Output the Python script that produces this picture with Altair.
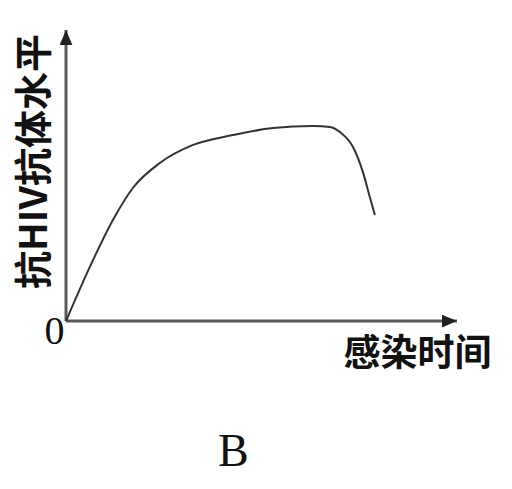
import altair as alt
import pandas as pd

# curve: infection time vs anti-HIV antibody level (relative units 0-100)
time = [0, 6.1, 12.0, 17.1, 24.0, 32.5, 42.7, 52.9, 63.2, 67.5, 70.1, 73.4, 76.0, 77.7, 79.0]
level = [0, 18.6, 34.7, 45.7, 54.3, 60.5, 63.9, 66.3, 67.0, 66.7, 64.9, 59.8, 50.9, 42.6, 36.4]

curve = pd.DataFrame({"t": time, "v": level})

xs = alt.Scale(domain=[0, 100], nice=False, zero=False)
ys = alt.Scale(domain=[0, 100], nice=False, zero=False)

axis_color = "#5a5a5a"
cjk = "Noto Sans CJK SC"

base = alt.Chart(curve)

line = base.mark_line(color="#333333", strokeWidth=2, interpolate="monotone", clip=False).encode(
    x=alt.X("t:Q", scale=xs, axis=alt.Axis(
        domain=False, ticks=False, grid=False, values=[0], labelExpr="'0'",
        labelFont="Liberation Serif", labelFontSize=40, labelColor="#111",
        labelFlush=False, labelAlign="center",
        labelOffset=-12, labelPadding=-10, labelBaseline="top",
        title="感染时间", titleFont=cjk, titleFontSize=37, titleFontWeight="bold",
        titleColor="#111", titleX=351, titleY=33, titleAlign="center", titleBaseline="middle")),
    y=alt.Y("v:Q", scale=ys, axis=alt.Axis(
        domain=False, ticks=False, grid=False, labels=False,
        title="抗HIV抗体水平", titleFont=cjk, titleFontSize=38, titleFontWeight="bold",
        titleColor="#111", titleX=-31, titleY=131, titleAlign="center", titleBaseline="middle",
        titleAngle=270)),
)

axes_df = pd.DataFrame({"x0": [0, 0], "x1": [100, 0], "y0": [0, 0], "y1": [0, 100]})
axes = alt.Chart(axes_df).mark_rule(color=axis_color, strokeWidth=3).encode(
    x=alt.X("x0:Q", scale=xs), x2="x1:Q",
    y=alt.Y("y0:Q", scale=ys), y2="y1:Q",
)

up = alt.Chart(pd.DataFrame({"x": [0], "y": [100]})).mark_point(
    shape="M0,-1L-0.85,1L0.85,1Z", size=225, filled=True, opacity=1,
    color="#222", yOffset=7.5).encode(x=alt.X("x:Q", scale=xs), y=alt.Y("y:Q", scale=ys))
right = alt.Chart(pd.DataFrame({"x": [100], "y": [0]})).mark_point(
    shape="M1,0L-1,-0.85L-1,0.85Z", size=225, filled=True, opacity=1,
    color="#222", xOffset=-7.5).encode(x=alt.X("x:Q", scale=xs), y=alt.Y("y:Q", scale=ys))

chart = alt.layer(axes, line, up, right).properties(
    width=391, height=291,
    title=alt.TitleParams("B", orient="bottom", anchor="start", dx=202, offset=58,
                          font="Liberation Serif", fontSize=46, fontWeight="normal", color="#111"),
    autosize=alt.AutoSizeParams(type="none"),
    padding={"left": 58, "top": 22, "right": 47, "bottom": 160},
).configure_view(stroke=None)

chart.save("out.html", embed_options={"renderer": "svg", "actions": False})
